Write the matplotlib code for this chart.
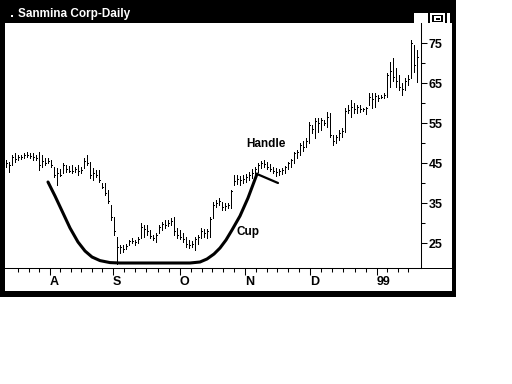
import matplotlib
matplotlib.use('Agg')
import matplotlib.pyplot as plt
import matplotlib.patches as mpatches

plt.rcParams['font.family'] = ['Liberation Sans', 'DejaVu Sans']

BLACK = 'black'
WHITE = 'white'

# daily bars, Jul 1998 - Jan 1999
highs = [45.75, 45.25, 47.0, 47.5, 47.0, 47.0, 47.5, 47.75, 47.5, 47.5,
         47.0, 47.75, 47.0, 46.25, 46.25, 45.75, 44.0, 43.75, 43.5, 45.0,
         44.5, 44.25, 44.5, 44.0, 44.5, 44.0, 46.25, 47.0, 45.25, 43.75,
         43.25, 43.25, 40.0, 40.0, 38.25, 34.5, 31.5, 26.5, 24.5, 24.5,
         24.75, 25.75, 26.25, 25.75, 26.5, 30.0, 29.5, 29.5, 28.25, 27.0,
         27.5, 29.5, 30.25, 30.75, 30.75, 31.25, 31.5, 28.75, 28.25, 27.5,
         26.5, 25.75, 25.5, 26.5, 27.0, 28.75, 28.5, 28.5, 31.5, 35.25,
         35.75, 36.25, 35.25, 35.0, 35.0, 38.25, 42.0, 42.0, 41.75, 42.0,
         42.25, 42.75, 43.5, 44.0, 45.0, 45.5, 45.75, 45.25, 44.75, 44.0,
         43.75, 43.5, 43.75, 44.25, 45.25, 46.0, 47.75, 48.25, 50.0, 50.5,
         51.25, 55.25, 54.5, 56.25, 56.25, 56.25, 55.75, 57.75, 57.5, 52.0,
         52.0, 53.25, 53.75, 58.75, 59.5, 60.75, 60.0, 59.5, 59.5, 58.75,
         59.0, 62.5, 62.5, 62.5, 62.0, 62.0, 62.5, 67.5, 70.25, 71.25,
         68.75, 67.0, 65.0, 66.25, 67.0, 75.75, 74.5, 73.25]
lows = [44.0, 42.75, 44.5, 45.25, 45.75, 46.0, 46.25, 46.5, 46.25, 45.75,
        45.75, 43.25, 44.0, 44.5, 45.0, 44.0, 41.5, 39.5, 41.75, 42.5,
        42.75, 42.75, 42.5, 42.75, 42.0, 42.5, 43.75, 44.5, 41.25, 40.75,
        41.5, 40.25, 38.75, 37.0, 35.0, 30.75, 27.0, 19.75, 22.5, 22.75,
        23.5, 24.5, 25.0, 24.5, 25.0, 26.25, 26.5, 27.0, 26.25, 25.75,
        25.25, 27.5, 28.25, 28.75, 29.25, 29.5, 27.0, 26.25, 26.0, 25.25,
        24.0, 23.75, 24.0, 23.25, 24.75, 26.25, 26.5, 26.25, 26.5, 31.25,
        34.0, 34.5, 33.25, 33.25, 33.75, 33.75, 39.5, 39.75, 39.5, 40.0,
        40.25, 40.75, 41.25, 42.0, 42.75, 43.75, 44.0, 43.5, 43.0, 42.5,
        41.75, 42.0, 42.25, 42.5, 43.5, 44.0, 45.0, 46.25, 47.0, 48.0,
        49.0, 50.0, 52.5, 51.25, 52.75, 53.25, 54.5, 54.0, 51.5, 49.5,
        50.0, 50.75, 51.5, 52.75, 57.5, 56.5, 57.5, 57.5, 57.75, 58.0,
        57.25, 59.5, 58.75, 59.0, 60.5, 61.25, 61.25, 61.5, 64.0, 65.5,
        64.0, 63.25, 62.0, 63.25, 64.5, 66.25, 67.75, 65.25]
closes = [45.0, 44.5, 46.5, 46.0, 46.5, 46.5, 47.0, 47.0, 46.75, 46.5,
          46.25, 44.5, 45.5, 45.0, 45.5, 44.5, 42.0, 42.5, 42.0, 44.5,
          43.5, 43.0, 43.0, 43.5, 43.0, 43.25, 45.5, 45.0, 42.0, 42.5,
          42.0, 40.75, 39.0, 37.5, 35.5, 31.5, 28.0, 24.0, 24.0, 23.5,
          24.25, 25.5, 25.5, 25.25, 26.0, 29.0, 28.5, 28.0, 26.75, 26.25,
          27.0, 29.0, 29.75, 29.5, 30.0, 30.5, 28.0, 27.0, 26.5, 26.0,
          24.75, 24.5, 24.75, 26.0, 26.5, 28.0, 27.5, 28.0, 31.0, 34.5,
          35.0, 35.5, 34.0, 34.25, 34.5, 38.0, 40.5, 41.0, 40.75, 41.0,
          41.5, 42.0, 42.5, 43.5, 44.5, 45.0, 44.75, 44.0, 43.5, 43.0,
          42.75, 43.0, 43.25, 44.0, 45.0, 45.75, 47.5, 47.75, 49.5, 49.0,
          50.5, 54.5, 53.5, 55.5, 55.0, 55.75, 55.0, 56.5, 52.0, 50.5,
          51.5, 52.5, 53.0, 58.0, 58.25, 59.0, 58.5, 59.0, 58.5, 58.5,
          58.75, 61.5, 61.0, 61.75, 61.25, 61.5, 62.0, 67.0, 68.0, 66.5,
          65.5, 64.0, 63.5, 65.5, 66.0, 75.0, 69.5, 71.5]

month_labels = ['A', 'S', 'O', 'N', 'D', '99']
month_pos = [14.7, 35.7, 58.0, 79.7, 101.3, 123.7]
price_ticks = [25, 35, 45, 55, 65, 75]
price_minor = [30, 40, 50, 60, 70]

# hand drawn cup and handle
cup_x = [14.03, 16.37, 19.03, 21.37, 24.03, 26.37, 28.7, 31.37, 34.7, 38.03,
         61.37, 64.7, 67.03, 69.37, 71.37, 73.37, 75.37, 78.03, 80.7, 83.7]
cup_y = [40.25, 36.75, 32.5, 28.75, 25.25, 23.0, 21.5, 20.6, 20.1, 20.0,
         20.0, 20.25, 21.0, 22.25, 23.75, 25.75, 28.25, 31.75, 36.25, 42.25]
handle_x = [83.7, 90.7]
handle_y = [42.25, 40.0]

W, H = 512, 384
fig = plt.figure(figsize=(W / 100, H / 100), dpi=100)
fig.patch.set_facecolor(WHITE)

# window frame in pixel coords
bg = fig.add_axes([0, 0, 1, 1], zorder=0)
bg.set_xlim(0, W)
bg.set_ylim(H, 0)
bg.axis('off')
bg.add_patch(mpatches.Rectangle((0, 0), 456, 297, facecolor=BLACK, lw=0))
bg.add_patch(mpatches.Rectangle((5, 23), 447, 268, facecolor=WHITE, lw=0))
bg.plot([421, 452], [268, 268], color=BLACK, lw=0.72, antialiased=False)

# title bar
bg.add_patch(mpatches.Rectangle((11, 15), 1.5, 2, facecolor=WHITE, lw=0))
bg.text(18, 14.5, 'Sanmina Corp-Daily', color=WHITE, fontsize=8.5,
        fontweight='bold', ha='left', va='center')
bg.add_patch(mpatches.Rectangle((414, 12.5), 14, 10.5, facecolor=WHITE, lw=0))
bg.add_patch(mpatches.Rectangle((430, 12.5), 15, 10.5, facecolor=WHITE, lw=0))
bg.add_patch(mpatches.Rectangle((432, 14.5), 11, 7.5, facecolor=BLACK, lw=0))
bg.add_patch(mpatches.Rectangle((434, 16), 7, 5, facecolor=WHITE, lw=0))
bg.add_patch(mpatches.Rectangle((435.5, 17.5), 4, 2, facecolor=BLACK, lw=0))
bg.add_patch(mpatches.Rectangle((447, 12.5), 3, 10.5, facecolor=WHITE, lw=0))

# price chart
ax = fig.add_axes([5 / W, 1 - 268 / H, 416 / W, 245 / H], zorder=1)
ax.patch.set_alpha(0)
idx = list(range(len(highs)))
ax.vlines(idx, lows, highs, color=BLACK, lw=0.72, antialiased=False)
ax.hlines(closes, idx, [i + 0.45 for i in idx], color=BLACK, lw=0.72,
          antialiased=False)

ax.plot(cup_x, cup_y, color=BLACK, lw=2.2, solid_capstyle='round',
        solid_joinstyle='round')
ax.plot(handle_x, handle_y, color=BLACK, lw=1.6, solid_capstyle='round')
ax.text(86.7, 49.75, 'Handle', fontsize=8.5, fontweight='bold',
        ha='center', va='center')
ax.text(80.7, 27.75, 'Cup', fontsize=8.5, fontweight='bold',
        ha='center', va='center')

ax.set_xlim(-0.3, 138.37)
ax.set_ylim(18.75, 80)

for s in ['left', 'top']:
    ax.spines[s].set_visible(False)
for s in ['right', 'bottom']:
    ax.spines[s].set_linewidth(0.75)

ax.yaxis.tick_right()
ax.set_yticks(price_ticks)
ax.set_yticks(price_minor, minor=True)
ax.set_yticklabels([str(p) for p in price_ticks])
ax.tick_params(axis='y', which='major', length=4.5, width=0.75, pad=1,
               labelsize=9)
ax.tick_params(axis='y', which='minor', length=3, width=0.75)

step = (month_pos[1] - month_pos[0]) / 6
minor_x = [month_pos[0] - k * step for k in range(1, 4)]
for a, b in zip(month_pos[:-1], month_pos[1:]):
    minor_x += [a + (b - a) * k / 6 for k in range(1, 6)]
minor_x += [month_pos[-1] + k * step for k in range(1, 4)]
ax.set_xticks(month_pos)
ax.set_xticklabels(month_labels)
ax.set_xticks(minor_x, minor=True)
ax.tick_params(axis='x', which='major', length=5, width=0.75, pad=0.5,
               labelsize=9)
ax.tick_params(axis='x', which='minor', length=3, width=0.75)
for lab in ax.get_xticklabels() + ax.get_yticklabels():
    lab.set_fontweight('bold')
for lab in ax.get_xticklabels():
    lab.set_horizontalalignment('left')

fig.savefig('out.png', dpi=100, facecolor=WHITE)
plt.close(fig)
